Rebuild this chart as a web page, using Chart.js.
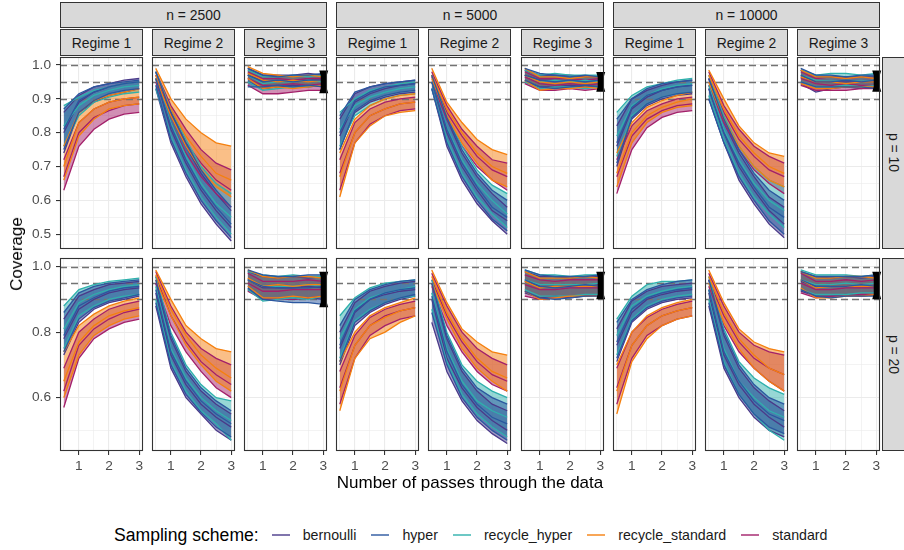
<!DOCTYPE html>
<html>
<head>
<meta charset="utf-8">
<script src="https://cdn.jsdelivr.net/npm/chart.js@4.4.1/dist/chart.umd.min.js"></script>
<style>
  body { margin: 0; width: 904px; height: 550px; position: relative; overflow: hidden; background: #fff;
         font-family: "Liberation Sans", Arial, sans-serif; }
  canvas { position: absolute; }
  .strip { position: absolute; box-sizing: border-box; background: #d9d9d9; border: 1px solid #333;
           display: flex; align-items: center; justify-content: center; font-size: 13.9px; color: #1a1a1a; }
  .strip.side { writing-mode: vertical-rl; }
  .title { position: absolute; font-size: 17px; color: #000; white-space: nowrap; }
  #legend { position: absolute; left: 114px; top: 523px; height: 24px; display: flex; align-items: center; }
  #legend .lt { font-size: 17.6px; margin-right: 13px; }
  #legend .key { width: 18px; height: 1.5px; margin-right: 13px; }
  #legend .lab { font-size: 14.2px; margin-right: 15px; color: #1a1a1a; }
</style>
</head>
<body>
<div id="legend"></div>
<script>
// ---- data ----
const schemes = ['bernoulli', 'hyper', 'recycle_hyper', 'recycle_standard', 'standard'];
const schemeColors = ['#4a3a8a', '#2b579f', '#2fb0ac', '#f5800f', '#a3206a'];
const passes = [0.5, 1, 1.5, 2, 2.5, 3];
const sampleSizes = ['n = 2500', 'n = 5000', 'n = 10000'];
const regimes = ['Regime 1', 'Regime 2', 'Regime 3'];
const dims = ['p = 10', 'p = 20'];
const refLines = [0.9, 0.95, 1.0];

const xMajor = [1, 2, 3];
const xMinor = [0.5, 1.5, 2.5];
const yMajorP10 = [0.5, 0.6, 0.7, 0.8, 0.9, 1.0];
const yMinorP10 = [0.55, 0.65, 0.75, 0.85, 0.95];
const yMajorP20 = [0.6, 0.8, 1.0];
const yMinorP20 = [0.5, 0.7, 0.9];

// each panel: 3 curves (lo, mid, hi) per scheme, schemes in the order above

// p = 10
const r1_n2500_p10 = [
  [0.74,0.86,0.89,0.91,0.92,0.93],[0.80,0.89,0.92,0.935,0.945,0.95],[0.86,0.91,0.935,0.945,0.955,0.96],
  [0.75,0.86,0.895,0.915,0.925,0.93],[0.81,0.895,0.92,0.935,0.945,0.95],[0.87,0.915,0.935,0.945,0.95,0.955],
  [0.76,0.85,0.89,0.905,0.915,0.92],[0.82,0.88,0.91,0.925,0.935,0.94],[0.88,0.905,0.925,0.935,0.945,0.95],
  [0.66,0.79,0.84,0.87,0.88,0.885],[0.70,0.83,0.87,0.89,0.90,0.905],[0.76,0.86,0.895,0.91,0.92,0.93],
  [0.63,0.76,0.81,0.84,0.855,0.86],[0.67,0.80,0.845,0.865,0.88,0.885],[0.72,0.83,0.87,0.89,0.90,0.905]
];
const r2_n2500_p10 = [
  [0.93,0.77,0.67,0.59,0.53,0.48],[0.96,0.81,0.71,0.63,0.57,0.52],[0.98,0.85,0.76,0.68,0.62,0.57],
  [0.94,0.78,0.68,0.60,0.54,0.49],[0.96,0.82,0.72,0.64,0.58,0.53],[0.98,0.86,0.77,0.69,0.63,0.58],
  [0.93,0.79,0.69,0.61,0.55,0.50],[0.96,0.83,0.73,0.65,0.59,0.55],[0.98,0.87,0.78,0.70,0.65,0.62],
  [0.96,0.85,0.76,0.69,0.64,0.61],[0.97,0.87,0.79,0.73,0.68,0.66],[0.99,0.90,0.84,0.80,0.77,0.76],
  [0.95,0.83,0.74,0.67,0.62,0.58],[0.97,0.86,0.77,0.71,0.66,0.63],[0.98,0.88,0.81,0.75,0.71,0.69]
];
const r3_n2500_p10 = [
  [0.95,0.93,0.935,0.94,0.935,0.94],[0.97,0.955,0.95,0.955,0.955,0.955],[0.99,0.97,0.97,0.97,0.975,0.97],
  [0.935,0.935,0.94,0.935,0.94,0.935],[0.97,0.95,0.955,0.95,0.955,0.955],[0.99,0.97,0.965,0.97,0.97,0.975],
  [0.95,0.925,0.93,0.935,0.935,0.94],[0.97,0.945,0.95,0.95,0.955,0.95],[0.985,0.965,0.965,0.97,0.965,0.97],
  [0.96,0.93,0.935,0.93,0.935,0.94],[0.975,0.955,0.95,0.955,0.95,0.955],[0.995,0.975,0.97,0.965,0.97,0.965],
  [0.94,0.915,0.915,0.92,0.925,0.925],[0.96,0.94,0.94,0.945,0.94,0.945],[0.98,0.96,0.96,0.955,0.96,0.96]
];
const r1_n5000_p10 = [
  [0.75,0.86,0.89,0.905,0.915,0.92],[0.79,0.89,0.915,0.93,0.94,0.945],[0.84,0.915,0.935,0.945,0.95,0.955],
  [0.75,0.865,0.895,0.91,0.92,0.925],[0.80,0.895,0.92,0.935,0.94,0.945],[0.85,0.92,0.935,0.945,0.95,0.955],
  [0.76,0.85,0.88,0.90,0.91,0.915],[0.81,0.88,0.905,0.92,0.93,0.935],[0.86,0.90,0.925,0.935,0.945,0.95],
  [0.61,0.77,0.82,0.85,0.86,0.865],[0.67,0.80,0.85,0.87,0.885,0.89],[0.74,0.84,0.88,0.90,0.91,0.915],
  [0.63,0.77,0.825,0.85,0.865,0.87],[0.68,0.80,0.85,0.87,0.885,0.89],[0.72,0.83,0.87,0.89,0.90,0.905]
];
const r2_n5000_p10 = [
  [0.93,0.76,0.66,0.59,0.54,0.50],[0.95,0.80,0.70,0.63,0.57,0.54],[0.97,0.84,0.74,0.67,0.62,0.58],
  [0.93,0.77,0.67,0.60,0.545,0.51],[0.95,0.81,0.71,0.64,0.58,0.55],[0.97,0.845,0.75,0.68,0.63,0.60],
  [0.93,0.78,0.68,0.61,0.56,0.52],[0.95,0.815,0.72,0.65,0.60,0.56],[0.97,0.85,0.76,0.69,0.645,0.62],
  [0.96,0.85,0.77,0.71,0.66,0.64],[0.97,0.87,0.80,0.74,0.70,0.68],[0.99,0.89,0.83,0.78,0.75,0.735],
  [0.95,0.84,0.76,0.70,0.66,0.63],[0.965,0.86,0.79,0.73,0.69,0.67],[0.98,0.88,0.81,0.76,0.72,0.71]
];
const r3_n5000_p10 = [
  [0.95,0.935,0.935,0.94,0.935,0.935],[0.97,0.955,0.955,0.95,0.955,0.95],[0.985,0.97,0.97,0.97,0.965,0.965],
  [0.955,0.935,0.93,0.935,0.94,0.935],[0.97,0.955,0.95,0.955,0.95,0.955],[0.99,0.975,0.97,0.965,0.97,0.965],
  [0.95,0.93,0.935,0.935,0.93,0.935],[0.97,0.95,0.955,0.95,0.955,0.95],[0.985,0.97,0.975,0.97,0.97,0.97],
  [0.955,0.925,0.93,0.93,0.935,0.93],[0.97,0.95,0.945,0.95,0.945,0.95],[0.99,0.965,0.965,0.96,0.965,0.965],
  [0.945,0.925,0.925,0.93,0.925,0.93],[0.965,0.945,0.94,0.945,0.94,0.945],[0.98,0.96,0.96,0.96,0.955,0.96]
];
const r1_n10000_p10 = [
  [0.70,0.84,0.88,0.90,0.91,0.915],[0.76,0.87,0.905,0.925,0.935,0.94],[0.82,0.90,0.925,0.94,0.95,0.955],
  [0.71,0.845,0.885,0.905,0.915,0.92],[0.77,0.875,0.91,0.925,0.935,0.94],[0.84,0.90,0.93,0.945,0.95,0.955],
  [0.73,0.85,0.885,0.905,0.915,0.92],[0.79,0.88,0.91,0.93,0.94,0.945],[0.86,0.91,0.935,0.945,0.955,0.96],
  [0.64,0.77,0.83,0.86,0.875,0.88],[0.68,0.80,0.85,0.875,0.89,0.90],[0.74,0.83,0.875,0.895,0.91,0.92],
  [0.62,0.75,0.815,0.845,0.86,0.865],[0.67,0.79,0.84,0.865,0.88,0.885],[0.72,0.82,0.865,0.885,0.90,0.905]
];
const r2_n10000_p10 = [
  [0.90,0.77,0.66,0.59,0.53,0.49],[0.93,0.80,0.70,0.63,0.57,0.53],[0.96,0.83,0.74,0.67,0.61,0.58],
  [0.90,0.77,0.67,0.60,0.54,0.50],[0.93,0.80,0.71,0.64,0.58,0.55],[0.96,0.84,0.75,0.68,0.63,0.60],
  [0.91,0.78,0.68,0.61,0.56,0.52],[0.94,0.81,0.72,0.65,0.60,0.57],[0.97,0.85,0.76,0.70,0.66,0.64],
  [0.95,0.84,0.76,0.70,0.66,0.64],[0.97,0.87,0.79,0.74,0.70,0.68],[0.985,0.90,0.82,0.77,0.74,0.73],
  [0.94,0.83,0.75,0.69,0.65,0.62],[0.96,0.86,0.78,0.73,0.69,0.67],[0.98,0.88,0.81,0.76,0.73,0.71]
];
const r3_n10000_p10 = [
  [0.945,0.92,0.93,0.935,0.93,0.935],[0.965,0.95,0.95,0.95,0.95,0.95],[0.985,0.965,0.965,0.965,0.965,0.965],
  [0.95,0.935,0.935,0.935,0.935,0.93],[0.97,0.95,0.95,0.955,0.95,0.955],[0.99,0.97,0.97,0.965,0.97,0.97],
  [0.95,0.935,0.935,0.94,0.935,0.94],[0.97,0.955,0.955,0.955,0.955,0.955],[0.985,0.97,0.975,0.975,0.97,0.975],
  [0.945,0.93,0.93,0.935,0.935,0.935],[0.965,0.95,0.95,0.945,0.95,0.95],[0.985,0.965,0.965,0.96,0.965,0.96],
  [0.94,0.925,0.925,0.925,0.93,0.93],[0.96,0.945,0.94,0.945,0.94,0.94],[0.98,0.96,0.955,0.96,0.955,0.96]
];

// p = 20
const r1_n2500_p20 = [
  [0.73,0.83,0.87,0.89,0.90,0.91],[0.78,0.87,0.90,0.92,0.93,0.935],[0.84,0.91,0.93,0.945,0.95,0.955],
  [0.74,0.84,0.875,0.895,0.905,0.915],[0.79,0.88,0.905,0.925,0.935,0.94],[0.86,0.92,0.94,0.95,0.955,0.96],
  [0.75,0.85,0.88,0.90,0.91,0.915],[0.81,0.89,0.915,0.93,0.94,0.945],[0.88,0.93,0.945,0.955,0.96,0.965],
  [0.60,0.73,0.79,0.82,0.84,0.85],[0.65,0.77,0.82,0.85,0.865,0.875],[0.74,0.82,0.855,0.88,0.895,0.905],
  [0.57,0.72,0.78,0.81,0.83,0.84],[0.62,0.76,0.81,0.84,0.86,0.87],[0.69,0.80,0.84,0.87,0.885,0.895]
];
const r2_n2500_p20 = [
  [0.88,0.69,0.60,0.55,0.50,0.47],[0.92,0.73,0.64,0.58,0.54,0.51],[0.95,0.78,0.68,0.62,0.58,0.55],
  [0.89,0.70,0.61,0.555,0.51,0.48],[0.93,0.74,0.65,0.59,0.55,0.52],[0.96,0.79,0.69,0.63,0.59,0.56],
  [0.90,0.71,0.62,0.56,0.52,0.47],[0.94,0.75,0.66,0.60,0.56,0.53],[0.97,0.80,0.70,0.64,0.60,0.59],
  [0.96,0.85,0.76,0.70,0.65,0.62],[0.975,0.87,0.79,0.73,0.69,0.66],[0.99,0.90,0.82,0.78,0.75,0.74],
  [0.95,0.82,0.74,0.68,0.63,0.60],[0.97,0.85,0.77,0.71,0.67,0.64],[0.985,0.88,0.80,0.75,0.72,0.70]
];
const r3_n2500_p20 = [
  [0.93,0.90,0.90,0.90,0.905,0.90],[0.96,0.935,0.935,0.935,0.94,0.935],[0.985,0.97,0.965,0.97,0.965,0.97],
  [0.935,0.90,0.895,0.89,0.89,0.885],[0.96,0.94,0.935,0.935,0.935,0.94],[0.99,0.975,0.97,0.97,0.975,0.975],
  [0.93,0.895,0.90,0.905,0.90,0.91],[0.96,0.94,0.94,0.94,0.945,0.94],[0.985,0.975,0.97,0.975,0.97,0.97],
  [0.94,0.905,0.905,0.91,0.905,0.91],[0.965,0.94,0.945,0.94,0.945,0.945],[0.99,0.97,0.965,0.97,0.97,0.965],
  [0.925,0.90,0.90,0.90,0.905,0.91],[0.95,0.925,0.925,0.93,0.93,0.93],[0.98,0.955,0.955,0.955,0.96,0.955]
];
const r1_n5000_p20 = [
  [0.70,0.82,0.86,0.885,0.90,0.91],[0.75,0.86,0.90,0.915,0.925,0.93],[0.80,0.89,0.925,0.94,0.95,0.955],
  [0.71,0.83,0.865,0.89,0.905,0.915],[0.76,0.865,0.90,0.92,0.93,0.935],[0.82,0.90,0.93,0.945,0.955,0.96],
  [0.72,0.835,0.87,0.89,0.905,0.91],[0.78,0.87,0.905,0.92,0.93,0.94],[0.85,0.905,0.935,0.95,0.955,0.96],
  [0.56,0.72,0.78,0.80,0.83,0.85],[0.62,0.76,0.82,0.845,0.865,0.875],[0.71,0.80,0.85,0.875,0.89,0.905],
  [0.58,0.72,0.79,0.82,0.84,0.85],[0.63,0.76,0.82,0.85,0.865,0.875],[0.68,0.79,0.845,0.87,0.885,0.895]
];
const r2_n5000_p20 = [
  [0.83,0.68,0.59,0.53,0.49,0.46],[0.90,0.72,0.63,0.57,0.53,0.50],[0.95,0.78,0.68,0.62,0.58,0.56],
  [0.86,0.70,0.60,0.54,0.50,0.47],[0.91,0.74,0.64,0.58,0.54,0.52],[0.95,0.79,0.69,0.63,0.60,0.58],
  [0.87,0.71,0.61,0.55,0.51,0.48],[0.92,0.75,0.65,0.59,0.56,0.54],[0.96,0.80,0.70,0.65,0.62,0.60],
  [0.95,0.84,0.75,0.69,0.65,0.62],[0.97,0.86,0.78,0.72,0.68,0.66],[0.99,0.89,0.81,0.77,0.74,0.73],
  [0.94,0.82,0.74,0.68,0.64,0.62],[0.96,0.85,0.77,0.71,0.67,0.65],[0.98,0.88,0.80,0.75,0.72,0.70]
];
const r3_n5000_p20 = [
  [0.92,0.905,0.91,0.905,0.91,0.915],[0.955,0.94,0.94,0.94,0.94,0.945],[0.985,0.97,0.97,0.965,0.97,0.97],
  [0.925,0.905,0.90,0.905,0.91,0.91],[0.96,0.94,0.935,0.94,0.945,0.94],[0.99,0.975,0.97,0.97,0.97,0.975],
  [0.93,0.91,0.91,0.91,0.915,0.915],[0.96,0.945,0.945,0.945,0.945,0.95],[0.99,0.975,0.975,0.97,0.975,0.975],
  [0.925,0.90,0.905,0.91,0.91,0.91],[0.955,0.935,0.94,0.94,0.94,0.94],[0.985,0.965,0.965,0.965,0.97,0.965],
  [0.91,0.90,0.905,0.91,0.91,0.915],[0.945,0.93,0.93,0.935,0.935,0.935],[0.975,0.96,0.955,0.96,0.96,0.96]
];
const r1_n10000_p20 = [
  [0.71,0.83,0.87,0.89,0.90,0.905],[0.76,0.86,0.90,0.915,0.925,0.93],[0.81,0.895,0.925,0.94,0.945,0.95],
  [0.72,0.835,0.875,0.895,0.905,0.91],[0.77,0.87,0.905,0.92,0.93,0.935],[0.83,0.90,0.93,0.945,0.955,0.96],
  [0.73,0.84,0.88,0.90,0.91,0.915],[0.79,0.88,0.91,0.925,0.935,0.94],[0.84,0.91,0.945,0.955,0.955,0.96],
  [0.55,0.71,0.78,0.82,0.84,0.85],[0.62,0.76,0.82,0.85,0.865,0.875],[0.70,0.80,0.85,0.875,0.89,0.90],
  [0.58,0.72,0.79,0.82,0.84,0.85],[0.63,0.76,0.82,0.85,0.865,0.875],[0.69,0.80,0.845,0.87,0.885,0.895]
];
const r2_n10000_p20 = [
  [0.88,0.69,0.60,0.54,0.50,0.48],[0.92,0.73,0.64,0.58,0.54,0.51],[0.96,0.79,0.69,0.63,0.59,0.56],
  [0.89,0.70,0.61,0.55,0.51,0.49],[0.93,0.74,0.65,0.59,0.55,0.53],[0.96,0.80,0.70,0.64,0.60,0.58],
  [0.90,0.71,0.61,0.55,0.50,0.47],[0.93,0.75,0.65,0.60,0.56,0.54],[0.97,0.81,0.71,0.66,0.63,0.61],
  [0.95,0.83,0.75,0.69,0.65,0.62],[0.97,0.86,0.78,0.73,0.69,0.67],[0.99,0.89,0.81,0.77,0.75,0.74],
  [0.94,0.82,0.74,0.69,0.65,0.62],[0.96,0.85,0.77,0.72,0.69,0.67],[0.98,0.88,0.80,0.76,0.74,0.73]
];
const r3_n10000_p20 = [
  [0.925,0.91,0.91,0.915,0.91,0.915],[0.955,0.94,0.94,0.94,0.94,0.94],[0.985,0.97,0.965,0.97,0.965,0.97],
  [0.93,0.91,0.905,0.91,0.91,0.91],[0.96,0.94,0.94,0.94,0.945,0.94],[0.985,0.97,0.97,0.97,0.97,0.975],
  [0.93,0.915,0.915,0.915,0.92,0.92],[0.96,0.945,0.945,0.95,0.945,0.95],[0.99,0.975,0.975,0.975,0.97,0.975],
  [0.935,0.905,0.905,0.91,0.91,0.915],[0.96,0.935,0.94,0.94,0.94,0.94],[0.985,0.965,0.965,0.97,0.97,0.965],
  [0.92,0.905,0.91,0.91,0.915,0.915],[0.95,0.93,0.93,0.935,0.935,0.935],[0.98,0.955,0.955,0.96,0.955,0.96]
];

// facet grid: rows = p, columns = n x regime
const grid = [
  [r1_n2500_p10, r2_n2500_p10, r3_n2500_p10, r1_n5000_p10, r2_n5000_p10, r3_n5000_p10, r1_n10000_p10, r2_n10000_p10, r3_n10000_p10],
  [r1_n2500_p20, r2_n2500_p20, r3_n2500_p20, r1_n5000_p20, r2_n5000_p20, r3_n5000_p20, r1_n10000_p20, r2_n10000_p20, r3_n10000_p20]
];
const yMajor = [yMajorP10, yMajorP20];
const yMinor = [yMinorP10, yMinorP20];
const yLimits = [[0.4565, 1.0235], [0.437, 1.0265]];

// ---- layout ----
const PANEL_LEFT = [60, 152, 244, 336, 428, 521, 613, 705, 797];
const PANEL_W = 83;
const ROW_TOP = [57, 258];
const ROW_H = [192, 193];
const AXIS_W = 60, AXIS_H = 24;

// schemes from top-most to bottom-most
const stackOrder = [1, 3, 2, 4, 0];

Chart.defaults.font.family = '"Liberation Sans", Arial, sans-serif';
Chart.defaults.font.size = 13.7;
Chart.defaults.color = '#4d4d4d';

const rgba = (hex, a) => {
  const n = parseInt(hex.slice(1), 16);
  return `rgba(${n >> 16},${(n >> 8) & 255},${n & 255},${a})`;
};
const isIn = (arr, v) => arr.some(m => Math.abs(m - v) < 1e-9);

function makeDatasets(rows) {
  const out = [];
  stackOrder.forEach(s => {
    const [lo, mid, hi] = [rows[s * 3], rows[s * 3 + 1], rows[s * 3 + 2]];
    [hi, mid, lo].forEach((vals, k) => {
      out.push({
        label: schemes[s],
        data: vals.map((v, i) => ({ x: passes[i], y: v })),
        borderColor: schemeColors[s],
        backgroundColor: rgba(schemeColors[s], 0.5),
        borderWidth: 1.3,
        fill: k === 2 ? '-2' : false,
        pointRadius: 0,
        tension: 0
      });
    });
  });
  return out;
}

// reference lines under the curves, panel border and end marker on top
const panelDecor = {
  id: 'panelDecor',
  beforeDatasetsDraw(chart) {
    const { ctx, chartArea: a, scales: { y } } = chart;
    ctx.save();
    ctx.strokeStyle = '#737373';
    ctx.lineWidth = 1.3;
    ctx.setLineDash([7, 4]);
    refLines.forEach(v => {
      const py = Math.round(y.getPixelForValue(v)) + 0.5;
      ctx.beginPath();
      ctx.moveTo(a.left, py);
      ctx.lineTo(a.right, py);
      ctx.stroke();
    });
    ctx.restore();
  },
  afterDatasetsDraw(chart, args, opts) {
    const { ctx, chartArea: a, scales: { x, y } } = chart;
    ctx.save();
    if (opts.endMarker) {
      const ends = chart.data.datasets.map(d => d.data[d.data.length - 1].y);
      const px = x.getPixelForValue(passes[passes.length - 1]) + 0.5;
      const top = y.getPixelForValue(Math.max(...ends));
      const bot = y.getPixelForValue(Math.min(...ends));
      ctx.fillStyle = '#000';
      ctx.beginPath();
      ctx.moveTo(px - 4.5, top - 3); ctx.lineTo(px + 4.5, top - 3);
      ctx.lineTo(px + 3, top + 2); ctx.lineTo(px + 3, bot - 2);
      ctx.lineTo(px + 4.5, bot + 3); ctx.lineTo(px - 4.5, bot + 3);
      ctx.lineTo(px - 3, bot - 2); ctx.lineTo(px - 3, top + 2);
      ctx.closePath();
      ctx.fill();
    }
    ctx.strokeStyle = '#333';
    ctx.lineWidth = 1.1;
    ctx.strokeRect(a.left + 0.5, a.top + 0.5, a.right - a.left - 1, a.bottom - a.top - 1);
    ctx.restore();
  }
};

function addPanel(r, c) {
  const left = c === 0, bottom = r === 1;
  const padL = left ? AXIS_W : 2, padB = bottom ? AXIS_H : 2;
  const cv = document.createElement('canvas');
  cv.width = PANEL_W + padL + 2;
  cv.height = ROW_H[r] + 2 + padB;
  cv.style.left = (PANEL_LEFT[c] - padL) + 'px';
  cv.style.top = (ROW_TOP[r] - 2) + 'px';
  document.body.appendChild(cv);

  const yTicks = [...yMajor[r], ...yMinor[r]].sort((a, b) => a - b);
  const xTicks = [...xMajor, ...xMinor].sort((a, b) => a - b);

  new Chart(cv, {
    type: 'line',
    data: { datasets: makeDatasets(grid[r][c]) },
    options: {
      responsive: false,
      animation: false,
      devicePixelRatio: 1,
      events: [],
      layout: { padding: { left: left ? 0 : 2, right: 2, top: 2, bottom: bottom ? 0 : 2 } },
      plugins: {
        legend: { display: false },
        tooltip: { enabled: false },
        filler: { drawTime: 'beforeDatasetsDraw' },
        panelDecor: { endMarker: c % 3 === 2 }
      },
      scales: {
        x: {
          type: 'linear', min: 0.375, max: 3.125,
          afterBuildTicks: s => { s.ticks = xTicks.map(v => ({ value: v })); },
          afterFit: s => { s.height = bottom ? AXIS_H : 0; s.paddingLeft = 0; s.paddingRight = 0; },
          ticks: { display: bottom, autoSkip: false, maxRotation: 0, padding: 3,
                   callback: v => isIn(xMajor, v) ? String(v) : '' },
          grid: {
            color: '#ebebeb',
            lineWidth: c => isIn(xMajor, c.tick.value) ? 1.1 : 0.6,
            drawTicks: bottom, tickLength: 4, tickWidth: 1.1,
            tickColor: c => isIn(xMajor, c.tick.value) ? '#333' : 'rgba(0,0,0,0)'
          },
          border: { display: false }
        },
        y: {
          type: 'linear', min: yLimits[r][0], max: yLimits[r][1],
          afterBuildTicks: s => { s.ticks = yTicks.map(v => ({ value: v })); },
          afterFit: s => { s.width = left ? AXIS_W : 0; s.paddingTop = 0; s.paddingBottom = 0; },
          ticks: { display: left, autoSkip: false, padding: 5,
                   callback: v => isIn(yMajor[r], v) ? v.toFixed(1) : '' },
          grid: {
            color: '#ebebeb',
            lineWidth: c => isIn(yMajor[r], c.tick.value) ? 1.1 : 0.6,
            drawTicks: left, tickLength: 4, tickWidth: 1.1,
            tickColor: c => isIn(yMajor[r], c.tick.value) ? '#333' : 'rgba(0,0,0,0)'
          },
          border: { display: false }
        }
      }
    },
    plugins: [panelDecor]
  });
}

function addStrip(text, x, y, w, h, side) {
  const d = document.createElement('div');
  d.className = 'strip' + (side ? ' side' : '');
  Object.assign(d.style, { left: x + 'px', top: y + 'px', width: w + 'px', height: h + 'px' });
  d.textContent = text;
  document.body.appendChild(d);
}

function addText(text, x, y, rotate) {
  const d = document.createElement('div');
  d.className = 'title';
  d.textContent = text;
  d.style.left = x + 'px';
  d.style.top = y + 'px';
  d.style.transform = `translate(-50%, -50%)${rotate ? ' rotate(-90deg)' : ''}`;
  document.body.appendChild(d);
}

// strips
sampleSizes.forEach((n, g) => {
  const x0 = PANEL_LEFT[g * 3];
  addStrip(n, x0, 2, PANEL_LEFT[g * 3 + 2] + PANEL_W - x0, 26);
  regimes.forEach((reg, k) => addStrip(reg, PANEL_LEFT[g * 3 + k], 29, PANEL_W, 27));
});
dims.forEach((p, r) => addStrip(p, 882, ROW_TOP[r], 23, ROW_H[r], true));

// panels
grid.forEach((row, r) => row.forEach((_, c) => addPanel(r, c)));

// axis titles
addText('Coverage', 17, (ROW_TOP[0] + ROW_TOP[1] + ROW_H[1]) / 2, true);
addText('Number of passes through the data', (PANEL_LEFT[0] + PANEL_LEFT[8] + PANEL_W) / 2, 483);

// legend
const legend = document.getElementById('legend');
legend.innerHTML = '<span class="lt">Sampling scheme:</span>' + schemes.map((s, i) =>
  `<span class="key" style="background:${rgba(schemeColors[i], 0.7)}"></span><span class="lab">${s}</span>`
).join('');
</script>
</body>
</html>
